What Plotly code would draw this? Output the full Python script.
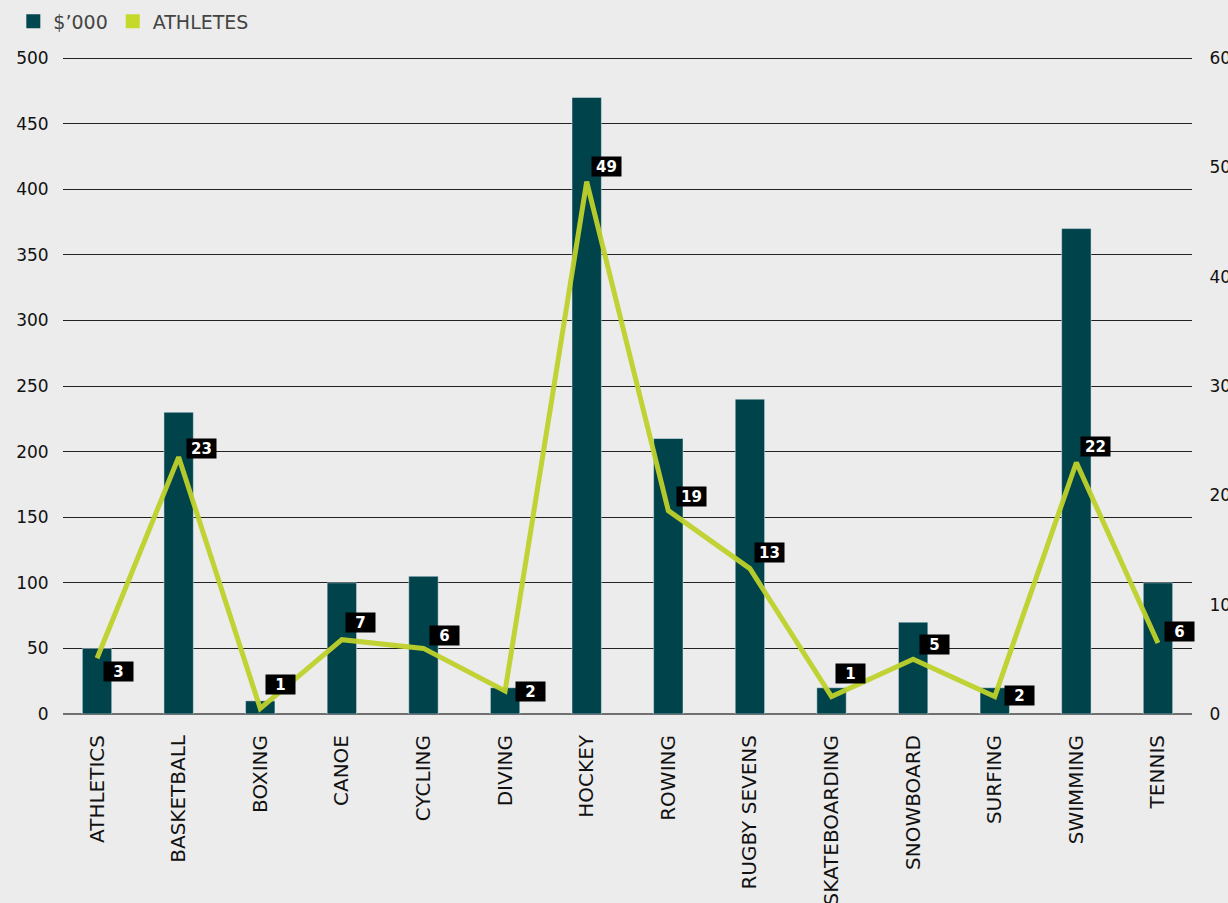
import plotly.graph_objects as go

sports = ["ATHLETICS", "BASKETBALL", "BOXING", "CANOE", "CYCLING", "DIVING", "HOCKEY",
          "ROWING", "RUGBY SEVENS", "SKATEBOARDING", "SNOWBOARD", "SURFING", "SWIMMING", "TENNIS"]
funding = [50, 230, 10, 100, 105, 20, 470, 210, 240, 20, 70, 20, 370, 100]
athletes_line = [5.1, 23.5, 0.5, 6.8, 6.0, 2.1, 48.7, 18.6, 13.3, 1.6, 5.0, 1.6, 23.0, 6.5]
athletes_labels = ["3", "23", "1", "7", "6", "2", "49", "19", "13", "1", "5", "2", "22", "6"]
left_ticks = [0, 50, 100, 150, 200, 250, 300, 350, 400, 450, 500]
right_ticks = [0, 10, 20, 30, 40, 50, 60]

# label offsets (pixels) relative to each line point
label_dx = [21, 23, 20, 19, 21, 25, 20, 23, 20, 19, 21, 25, 19, 22]
label_dy = [-13, 9, 24, 17, 13, 0, 15, 14, 16, 23, 15, 1, 16, 11]

BAR = "#00434b"
LINE = "#bed12b"
FONT = "DejaVu Sans"

fig = go.Figure()
fig.add_trace(go.Bar(x=sports, y=funding, name="$’000", marker_color=BAR,
                     width=0.36, yaxis="y", showlegend=False))
fig.add_trace(go.Scatter(x=sports, y=athletes_line, mode="lines", showlegend=False,
                         line=dict(color=LINE, width=5), yaxis="y2", opacity=0.95))
fig.add_trace(go.Scatter(x=[None], y=[None], mode="markers", name="$’000",
                         marker=dict(symbol="square", size=12, color="#004750",
                                     line=dict(color="#004750", width=3)), yaxis="y2"))
fig.add_trace(go.Scatter(x=[None], y=[None], mode="markers", name="ATHLETES",
                         marker=dict(symbol="square", size=12, color="#c5d92b",
                                     line=dict(color="#c5d92b", width=3)), yaxis="y2"))

for s, v, t, dx, dy in zip(sports, athletes_line, athletes_labels, label_dx, label_dy):
    fig.add_annotation(x=s, y=v, yref="y2", text="<b>%s</b>" % t, showarrow=False,
                       xshift=dx, yshift=dy, bgcolor="#000000",
                       font=dict(color="white", size=15, family=FONT), borderpad=1,
                       width=27, height=17)

fig.update_layout(
    width=1228, height=903,
    margin=dict(l=63, r=36, t=57, b=189, autoexpand=False),
    paper_bgcolor="#ececec", plot_bgcolor="rgba(0,0,0,0)",
    font=dict(family=FONT, color="#111111"),
    legend=dict(orientation="h", x=-0.044, xanchor="left", y=1.054, yanchor="middle",
                font=dict(size=19, color="#444444", family=FONT),
                itemsizing="constant", traceorder="normal"),
    xaxis=dict(range=[-0.417, 13.417], tickangle=-90, showgrid=False,
               tickfont=dict(size=20, color="#111111"), ticks="outside", ticklen=12,
               tickcolor="rgba(0,0,0,0)", showline=False, zeroline=False),
    yaxis=dict(range=[0, 500.8], tickvals=left_ticks, showgrid=True, gridcolor="#222222",
               gridwidth=1, zeroline=True, zerolinecolor="#707070", zerolinewidth=2,
               tickfont=dict(size=17, color="#111111"), ticks="outside", ticklen=10,
               tickcolor="rgba(0,0,0,0)", layer="below traces"),
    yaxis2=dict(range=[0, 60.096], tickvals=right_ticks, overlaying="y", side="right",
                showgrid=False, zeroline=False, tickfont=dict(size=17, color="#111111"),
                ticks="outside", ticklen=13, tickcolor="rgba(0,0,0,0)"),
)

fig.write_html("out.html", config={"displayModeBar": False},
               post_script="document.body.style.margin='0';document.body.style.overflow='hidden';")
